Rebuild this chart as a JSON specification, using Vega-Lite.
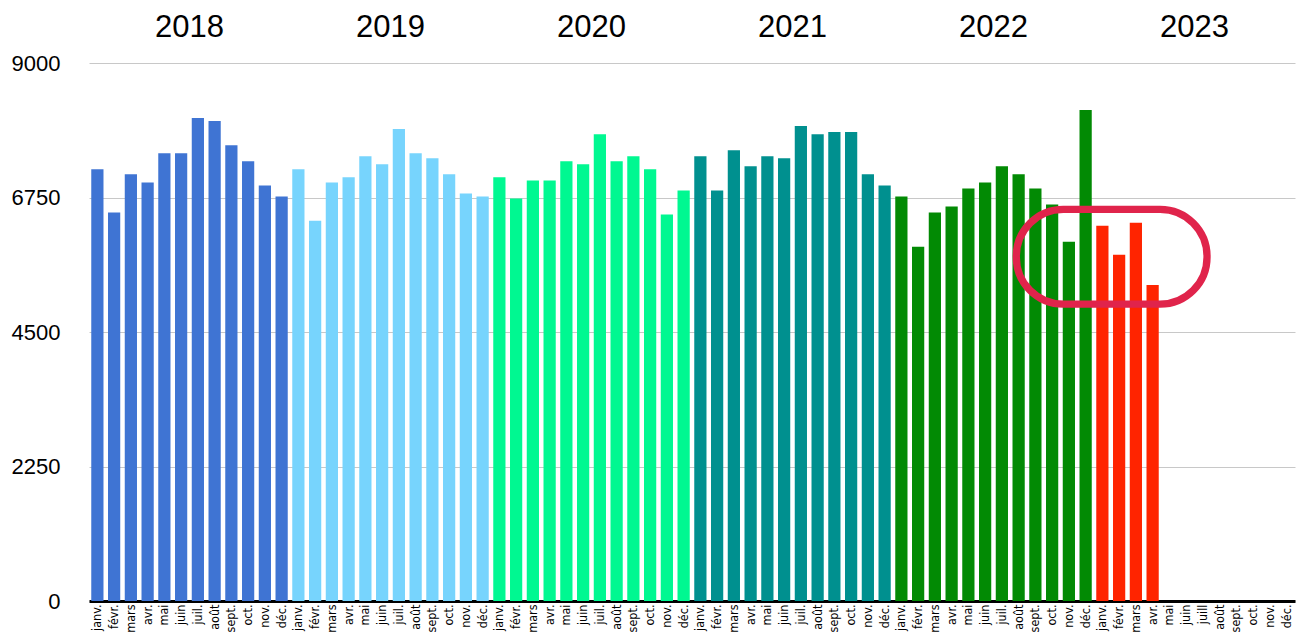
{
  "$schema": "https://vega.github.io/schema/vega-lite/v6.json",
  "width": 1206,
  "height": 538,
  "autosize": {"type": "none"},
  "padding": {"left": 89, "top": 63, "right": 7, "bottom": 31},
  "background": "white",
  "config": {
    "view": {"stroke": null},
    "font": "Liberation Sans"
  },
  "datasets": {
    "months": [
      {"m": "janv. 2018", "year": "2018", "v": 7221},
      {"m": "févr. 2018", "year": "2018", "v": 6498},
      {"m": "mars 2018", "year": "2018", "v": 7137},
      {"m": "avr. 2018", "year": "2018", "v": 7002},
      {"m": "mai 2018", "year": "2018", "v": 7490},
      {"m": "juin 2018", "year": "2018", "v": 7490},
      {"m": "juil. 2018", "year": "2018", "v": 8080},
      {"m": "août 2018", "year": "2018", "v": 8029},
      {"m": "sept. 2018", "year": "2018", "v": 7625},
      {"m": "oct. 2018", "year": "2018", "v": 7356},
      {"m": "nov. 2018", "year": "2018", "v": 6952},
      {"m": "déc. 2018", "year": "2018", "v": 6767},
      {"m": "janv. 2019", "year": "2019", "v": 7221},
      {"m": "févr. 2019", "year": "2019", "v": 6363},
      {"m": "mars 2019", "year": "2019", "v": 7002},
      {"m": "avr. 2019", "year": "2019", "v": 7087},
      {"m": "mai 2019", "year": "2019", "v": 7440},
      {"m": "juin 2019", "year": "2019", "v": 7305},
      {"m": "juil. 2019", "year": "2019", "v": 7894},
      {"m": "août 2019", "year": "2019", "v": 7490},
      {"m": "sept. 2019", "year": "2019", "v": 7406},
      {"m": "oct. 2019", "year": "2019", "v": 7137},
      {"m": "nov. 2019", "year": "2019", "v": 6817},
      {"m": "déc. 2019", "year": "2019", "v": 6767},
      {"m": "janv. 2020", "year": "2020", "v": 7087},
      {"m": "févr. 2020", "year": "2020", "v": 6733},
      {"m": "mars 2020", "year": "2020", "v": 7036},
      {"m": "avr. 2020", "year": "2020", "v": 7036},
      {"m": "mai 2020", "year": "2020", "v": 7356},
      {"m": "juin 2020", "year": "2020", "v": 7305},
      {"m": "juil. 2020", "year": "2020", "v": 7810},
      {"m": "août 2020", "year": "2020", "v": 7356},
      {"m": "sept. 2020", "year": "2020", "v": 7440},
      {"m": "oct. 2020", "year": "2020", "v": 7221},
      {"m": "nov. 2020", "year": "2020", "v": 6464},
      {"m": "déc. 2020", "year": "2020", "v": 6868},
      {"m": "janv. 2021", "year": "2021", "v": 7440},
      {"m": "févr. 2021", "year": "2021", "v": 6868},
      {"m": "mars 2021", "year": "2021", "v": 7541},
      {"m": "avr. 2021", "year": "2021", "v": 7272},
      {"m": "mai 2021", "year": "2021", "v": 7440},
      {"m": "juin 2021", "year": "2021", "v": 7406},
      {"m": "juil. 2021", "year": "2021", "v": 7945},
      {"m": "août 2021", "year": "2021", "v": 7810},
      {"m": "sept. 2021", "year": "2021", "v": 7844},
      {"m": "oct. 2021", "year": "2021", "v": 7844},
      {"m": "nov. 2021", "year": "2021", "v": 7137},
      {"m": "déc. 2021", "year": "2021", "v": 6952},
      {"m": "janv. 2022", "year": "2022", "v": 6767},
      {"m": "févr. 2022", "year": "2022", "v": 5925},
      {"m": "mars 2022", "year": "2022", "v": 6498},
      {"m": "avr. 2022", "year": "2022", "v": 6599},
      {"m": "mai 2022", "year": "2022", "v": 6901},
      {"m": "juin 2022", "year": "2022", "v": 7002},
      {"m": "juil. 2022", "year": "2022", "v": 7272},
      {"m": "août 2022", "year": "2022", "v": 7137},
      {"m": "sept. 2022", "year": "2022", "v": 6901},
      {"m": "oct. 2022", "year": "2022", "v": 6632},
      {"m": "nov. 2022", "year": "2022", "v": 6009},
      {"m": "déc. 2022", "year": "2022", "v": 8214},
      {"m": "janv. 2023", "year": "2023", "v": 6279},
      {"m": "févr. 2023", "year": "2023", "v": 5791},
      {"m": "mars 2023", "year": "2023", "v": 6329},
      {"m": "avr. 2023", "year": "2023", "v": 5286},
      {"m": "mai 2023", "year": "2023", "v": null},
      {"m": "juin 2023", "year": "2023", "v": null},
      {"m": "juill 2023", "year": "2023", "v": null},
      {"m": "août 2023", "year": "2023", "v": null},
      {"m": "sept. 2023", "year": "2023", "v": null},
      {"m": "oct. 2023", "year": "2023", "v": null},
      {"m": "nov. 2023", "year": "2023", "v": null},
      {"m": "déc. 2023", "year": "2023", "v": null}
    ],
    "note": [
      {"a": "août 2022", "b": "juill 2023", "lo": 4966, "hi": 6553}
    ]
  },
  "resolve": {"axis": {"x": "independent"}},
  "layer": [
    {
      "data": {"name": "months"},
      "mark": {"type": "bar"},
      "encoding": {
        "x": {
          "field": "m",
          "type": "ordinal",
          "scale": {
            "paddingInner": 0.27,
            "paddingOuter": 0.135,
            "domain": ["janv. 2018","févr. 2018","mars 2018","avr. 2018","mai 2018","juin 2018","juil. 2018","août 2018","sept. 2018","oct. 2018","nov. 2018","déc. 2018","janv. 2019","févr. 2019","mars 2019","avr. 2019","mai 2019","juin 2019","juil. 2019","août 2019","sept. 2019","oct. 2019","nov. 2019","déc. 2019","janv. 2020","févr. 2020","mars 2020","avr. 2020","mai 2020","juin 2020","juil. 2020","août 2020","sept. 2020","oct. 2020","nov. 2020","déc. 2020","janv. 2021","févr. 2021","mars 2021","avr. 2021","mai 2021","juin 2021","juil. 2021","août 2021","sept. 2021","oct. 2021","nov. 2021","déc. 2021","janv. 2022","févr. 2022","mars 2022","avr. 2022","mai 2022","juin 2022","juil. 2022","août 2022","sept. 2022","oct. 2022","nov. 2022","déc. 2022","janv. 2023","févr. 2023","mars 2023","avr. 2023","mai 2023","juin 2023","juill 2023","août 2023","sept. 2023","oct. 2023","nov. 2023","déc. 2023"]
          },
          "axis": {
            "orient": "bottom",
            "title": null,
            "labelExpr": "split(datum.value, ' ')[0]",
            "labelAngle": -90,
            "labelFont": "DejaVu Sans Condensed, Liberation Sans, sans-serif",
            "labelFontSize": 12.5,
            "labelColor": "#000000",
            "labelPadding": 3,
            "labelOverlap": false,
            "ticks": false,
            "domain": true,
            "domainColor": "#000000",
            "domainWidth": 3,
            "grid": false
          }
        },
        "y": {
          "field": "v",
          "type": "quantitative",
          "scale": {"domain": [0, 9000], "nice": false, "zero": true},
          "axis": {
            "title": null,
            "values": [0, 2250, 4500, 6750, 9000],
            "format": "d",
            "labelFontSize": 22,
            "labelColor": "#000000",
            "labelPadding": 29,
            "ticks": false,
            "domain": false,
            "grid": true,
            "gridColor": "#c8c8c8",
            "gridWidth": 1
          }
        },
        "color": {
          "field": "year",
          "type": "nominal",
          "scale": {
            "domain": ["2018", "2019", "2020", "2021", "2022", "2023"],
            "range": ["#3f74d3", "#77d4fd", "#00f891", "#00908f", "#028a04", "#ff2400"]
          },
          "legend": null
        }
      }
    },
    {
      "data": {"name": "note"},
      "mark": {"type": "rect", "fill": null, "filled": false, "stroke": "#e0244b", "strokeWidth": 7.3, "cornerRadius": 47},
      "encoding": {
        "x": {
          "field": "a",
          "type": "ordinal",
          "bandPosition": 0.31,
          "scale": {
            "paddingInner": 0.27,
            "paddingOuter": 0.135,
            "domain": ["janv. 2018","févr. 2018","mars 2018","avr. 2018","mai 2018","juin 2018","juil. 2018","août 2018","sept. 2018","oct. 2018","nov. 2018","déc. 2018","janv. 2019","févr. 2019","mars 2019","avr. 2019","mai 2019","juin 2019","juil. 2019","août 2019","sept. 2019","oct. 2019","nov. 2019","déc. 2019","janv. 2020","févr. 2020","mars 2020","avr. 2020","mai 2020","juin 2020","juil. 2020","août 2020","sept. 2020","oct. 2020","nov. 2020","déc. 2020","janv. 2021","févr. 2021","mars 2021","avr. 2021","mai 2021","juin 2021","juil. 2021","août 2021","sept. 2021","oct. 2021","nov. 2021","déc. 2021","janv. 2022","févr. 2022","mars 2022","avr. 2022","mai 2022","juin 2022","juil. 2022","août 2022","sept. 2022","oct. 2022","nov. 2022","déc. 2022","janv. 2023","févr. 2023","mars 2023","avr. 2023","mai 2023","juin 2023","juill 2023","août 2023","sept. 2023","oct. 2023","nov. 2023","déc. 2023"]
          },
          "axis": {
            "orient": "top",
            "title": null,
            "labelExpr": "indexof(datum.value, 'juil') == 0 ? split(datum.value, ' ')[1] : ''",
            "labelOffset": -8.375,
            "labelFontSize": 31,
            "labelColor": "#000000",
            "labelPadding": 20,
            "labelOverlap": false,
            "labelFlush": false,
            "labelAngle": 0,
            "ticks": false,
            "domain": false,
            "grid": false
          }
        },
        "x2": {"field": "b", "bandPosition": 0.84},
        "y": {"field": "hi", "type": "quantitative"},
        "y2": {"field": "lo"}
      }
    }
  ]
}
